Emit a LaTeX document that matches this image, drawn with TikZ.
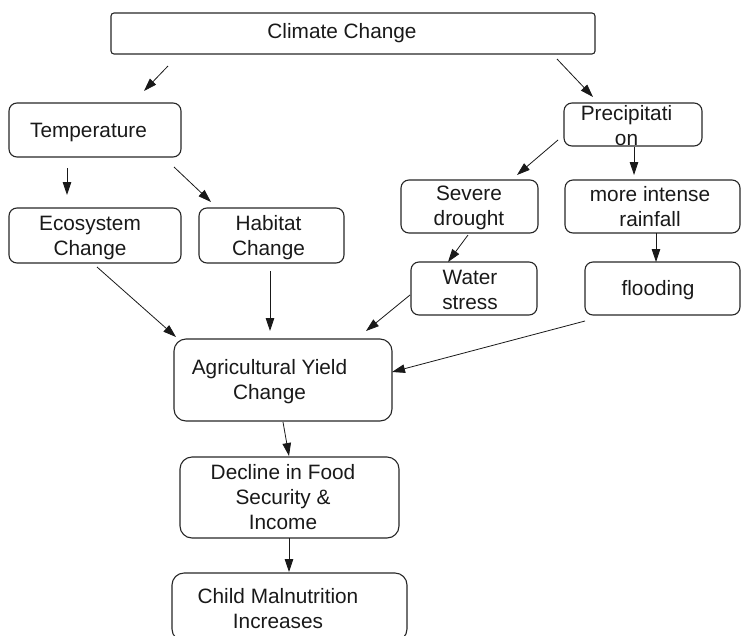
\documentclass[tikz,border=0pt]{standalone}
\usepackage{fontspec}
\setmainfont{Liberation Sans}
\usetikzlibrary{arrows.meta}
\begin{document}
\begin{tikzpicture}[x=1pt,y=-1pt,
  box/.style={draw=black!85, line width=1.1pt, rounded corners=8pt, inner sep=0pt},
  txt/.style={align=center, inner sep=0pt, text=black!90, font=\fontsize{20.8}{25}\selectfont},
  arr/.style={draw=black!90, line width=0.8pt, -{Triangle[length=13pt,width=8.5pt]}}]
\useasboundingbox (0,0) rectangle (741,635);
% boxes
\node[box, rounded corners=3pt, minimum width=484pt, minimum height=41pt] (cc) at (353,33.5) {};
\node[box, minimum width=172pt, minimum height=54pt] (temp) at (95,130) {};
\node[box, minimum width=172pt, minimum height=55pt] (eco) at (95,235.5) {};
\node[box, minimum width=145pt, minimum height=55pt] (hab) at (271.5,235.5) {};
\node[box, minimum width=138pt, minimum height=43pt] (prec) at (633,124.5) {};
\node[box, minimum width=137pt, minimum height=53pt] (sev) at (469.5,206.5) {};
\node[box, minimum width=175pt, minimum height=53pt] (rain) at (652.5,206.5) {};
\node[box, minimum width=126pt, minimum height=53pt] (water) at (474,288.5) {};
\node[box, minimum width=155pt, minimum height=53pt] (flood) at (662.5,288.5) {};
\node[box, rounded corners=12pt, minimum width=218pt, minimum height=82pt] (agri) at (283,380) {};
\node[box, rounded corners=12pt, minimum width=219pt, minimum height=81pt] (decl) at (289.5,497.5) {};
\node[box, rounded corners=12pt, minimum width=235pt, minimum height=68pt] (child) at (289.5,607) {};
% texts
\node[txt] (cc-t) at (342,33) {Climate Change};
\node[txt] (temp-t) at (88.5,132) {Temperature};
\node[txt] (eco-t) at (90,238) {Ecosystem\\Change};
\node[txt] (hab-t) at (268.5,238) {Habitat\\Change};
\node[txt] (prec-t) at (626.5,125.5) {Precipitati\\on};
\node[txt] (sev-t) at (469,208) {Severe\\drought};
\node[txt] (rain-t) at (650,207) {more intense\\rainfall};
\node[txt] (water-t) at (470,290) {Water\\stress};
\node[txt] (flood-t) at (658,290) {flooding};
\node[txt] (agri-t) at (269.5,381.5) {Agricultural Yield\\Change};
\node[txt] (decl-t) at (283,497.5) {Decline in Food\\Security \&\\Income};
\node[txt] (child-t) at (278,608.5) {Child Malnutrition\\Increases};
% arrow end points
\coordinate (a1s) at (168,66);  \coordinate (a1e) at (144,91);
\coordinate (a2s) at (557,59);  \coordinate (a2e) at (593,97);
\coordinate (a3s) at (67,168);  \coordinate (a3e) at (67,195);
\coordinate (a4s) at (174,167); \coordinate (a4e) at (211,202);
\coordinate (a5s) at (558,140); \coordinate (a5e) at (517,175);
\coordinate (a6s) at (634,147); \coordinate (a6e) at (634,175);
\coordinate (a7s) at (468,235); \coordinate (a7e) at (448,262);
\coordinate (a8s) at (656,233); \coordinate (a8e) at (656,262);
\coordinate (a9s) at (97,267);  \coordinate (a9e) at (176,337);
\coordinate (a10s) at (270,271); \coordinate (a10e) at (270,331);
\coordinate (a11s) at (410,295); \coordinate (a11e) at (366,331);
\coordinate (a12s) at (585,321); \coordinate (a12e) at (392,372);
\coordinate (a13s) at (283,422); \coordinate (a13e) at (289,456);
\coordinate (a14s) at (289,538); \coordinate (a14e) at (289,572);
% connectors
\draw[arr] (a1s) -- (a1e);
\draw[arr] (a2s) -- (a2e);
\draw[arr] (a3s) -- (a3e);
\draw[arr] (a4s) -- (a4e);
\draw[arr] (a5s) -- (a5e);
\draw[arr] (a6s) -- (a6e);
\draw[arr] (a7s) -- (a7e);
\draw[arr] (a8s) -- (a8e);
\draw[arr] (a9s) -- (a9e);
\draw[arr] (a10s) -- (a10e);
\draw[arr] (a11s) -- (a11e);
\draw[arr] (a12s) -- (a12e);
\draw[arr] (a13s) -- (a13e);
\draw[arr] (a14s) -- (a14e);
\end{tikzpicture}
\end{document}
